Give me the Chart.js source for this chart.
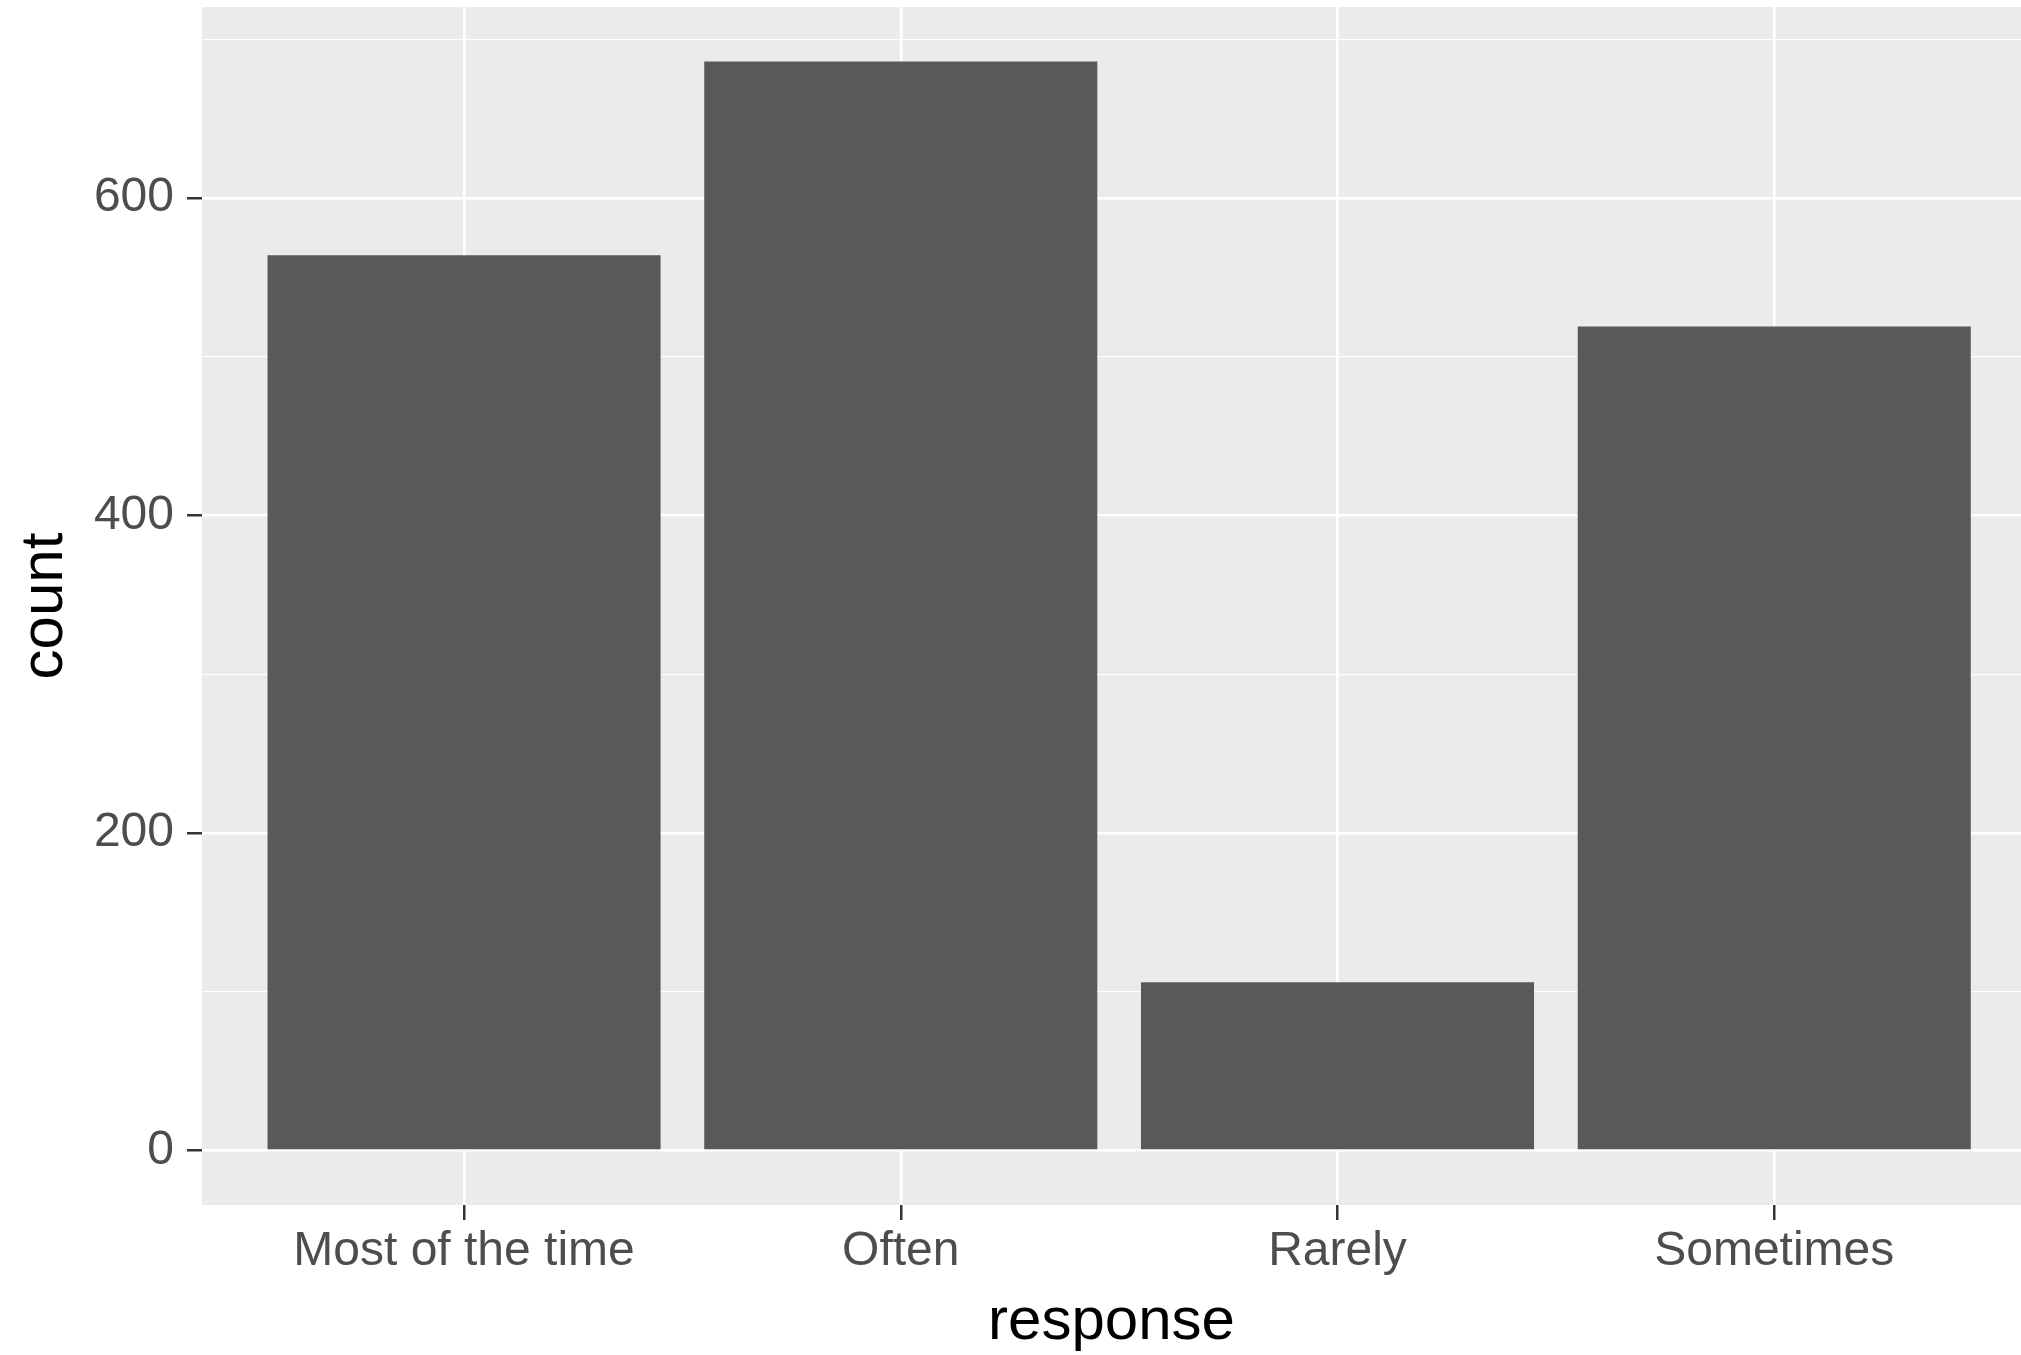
<!DOCTYPE html>
<html>
<head>
<meta charset="utf-8">
<script src="https://cdn.jsdelivr.net/npm/chart.js@4/dist/chart.umd.min.js"></script>
<style>
  html, body { margin: 0; padding: 0; background: #fff; }
  canvas { display: block; }
</style>
</head>
<body>
<canvas id="response-count" width="2021" height="1355"></canvas>
<script>
const categories = ['Most of the time', 'Often', 'Rarely', 'Sometimes']
const counts = [564, 686, 106, 519]
const yMajorTicks = [0, 200, 400, 600]
const yMinorTicks = [100, 300, 500, 700]

const FONT = "'Liberation Sans', Arial, Helvetica, sans-serif"
const PANEL_BG = '#EBEBEB'
const BAR_COLOR = '#595959'

// ggplot-style expansion: 5% on y, 0.6 units on a discrete x
const yTop = Math.max(...counts) * 1.05
const yBottom = -Math.max(...counts) * 0.05
// the original image is cropped a little on the right, so the panel ends short of +0.6
const xMin = 0.4
const xMax = categories.length + 0.565

const barData = categories.map((c, i) => ({ x: i + 1, y: counts[i] }))

const panelBackground = {
  id: 'panelBackground',
  beforeDraw: chart => {
    const { ctx, chartArea } = chart
    ctx.save()
    ctx.fillStyle = PANEL_BG
    ctx.fillRect(chartArea.left, chartArea.top, chartArea.width, chartArea.height)
    ctx.restore()
  },
}

const isMajor = v => yMajorTicks.includes(v)

const ctxResponse = document.getElementById('response-count').getContext('2d')
new Chart(ctxResponse, {
  type: 'bar',
  data: {
    datasets: [
      {
        data: barData,
        backgroundColor: BAR_COLOR,
        borderWidth: 0,
        categoryPercentage: 0.9,
        barPercentage: 1.0,
      },
    ],
  },
  options: {
    responsive: false,
    animation: false,
    layout: { padding: { top: 7, left: 0, right: 0, bottom: 0 } },
    plugins: {
      legend: { display: false },
      tooltip: { enabled: false },
    },
    scales: {
      x: {
        type: 'linear',
        offset: false,
        min: xMin,
        max: xMax,
        afterBuildTicks: scale => {
          scale.ticks = categories.map((c, i) => ({ value: i + 1 }))
        },
        afterFit: scale => {
          scale.height = 150
          scale.paddingLeft = 0
          scale.paddingRight = 0
        },
        border: { display: false },
        grid: {
          offset: false,
          color: '#FFFFFF',
          lineWidth: 2.5,
          drawTicks: true,
          tickLength: 15,
          tickColor: '#333333',
          tickWidth: 2.5,
        },
        ticks: {
          autoSkip: false,
          maxRotation: 0,
          padding: 3,
          color: '#4D4D4D',
          font: { family: FONT, size: 48 },
          callback: value => categories[value - 1],
        },
        title: {
          display: true,
          text: 'response',
          color: '#000000',
          font: { family: FONT, size: 60, lineHeight: 1.1 },
          padding: 0,
        },
      },
      y: {
        min: yBottom,
        max: yTop,
        afterBuildTicks: scale => {
          scale.ticks = [...yMajorTicks, ...yMinorTicks]
            .sort((a, b) => a - b)
            .map(v => ({ value: v }))
        },
        afterFit: scale => {
          scale.width = 202
          scale.paddingTop = 0
          scale.paddingBottom = 0
        },
        border: { display: false },
        grid: {
          color: '#FFFFFF',
          lineWidth: ctx => (isMajor(ctx.tick.value) ? 2.5 : 1.2),
          drawTicks: true,
          tickLength: 15,
          tickColor: ctx => (isMajor(ctx.tick.value) ? '#333333' : 'rgba(0,0,0,0)'),
          tickWidth: 2.5,
        },
        ticks: {
          autoSkip: false,
          padding: 13,
          color: '#4D4D4D',
          font: { family: FONT, size: 48 },
          callback: value => (isMajor(value) ? String(value) : ''),
        },
        title: {
          display: true,
          text: 'count',
          color: '#000000',
          font: { family: FONT, size: 60, lineHeight: 1.2 },
          padding: { top: 9, bottom: 0 },
        },
      },
    },
  },
  plugins: [panelBackground],
})
</script>
</body>
</html>
